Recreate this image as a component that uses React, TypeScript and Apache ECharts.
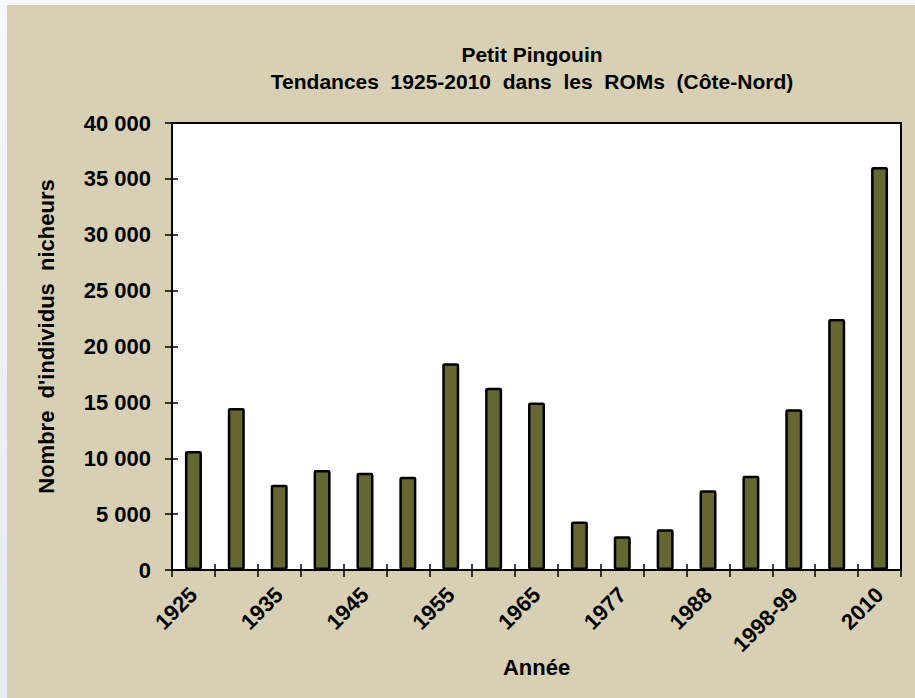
import React, { useEffect, useRef } from "react";
import * as echarts from "echarts";

const categories = [
  "1925", "1930", "1935", "1940", "1945", "1950", "1955", "1960", "1965",
  "1972", "1977", "1982", "1988", "1993", "1998-99", "2005", "2010",
];
const counts = [
  10650, 14500, 7630, 8950, 8710, 8350, 18500, 16300, 15000,
  4330, 3010, 3640, 7130, 8440, 14380, 22460, 36060,
];
const yTicks = { min: 0, max: 40000, interval: 5000 };
const titleLines = ["Petit Pingouin", "Tendances  1925-2010  dans  les  ROMs  (Côte-Nord)"];
const yName = "Nombre  d'individus  nicheurs";
const xName = "Année";

const FONT = '"Liberation Sans", Arial, sans-serif';

function fmt(v: number): string {
  return String(v).replace(/\B(?=(\d{3})+(?!\d))/g, " ");
}

export default function App() {
  const ref = useRef<HTMLDivElement>(null);
  useEffect(() => {
    if (!ref.current) return;
    const chart = echarts.init(ref.current, undefined, { renderer: "svg" });
    const labelStyle = { color: "#000", fontFamily: FONT, fontWeight: "bold" as const, fontSize: 22 };
    chart.setOption({
      animation: false,
      backgroundColor: "#d8d0b4",
      title: {
        text: titleLines.join("\n"),
        left: 520,
        top: 31,
        textAlign: "center",
        textStyle: { ...labelStyle, fontSize: 21, lineHeight: 27 },
      },
      grid: {
        left: 165,
        right: 14,
        top: 118,
        bottom: 128,
        show: true,
        backgroundColor: "#fff",
        borderColor: "#000",
        borderWidth: 2,
      },
      xAxis: [
        {
          type: "category",
          data: categories,
          position: "bottom",
          boundaryGap: true,
          name: xName,
          nameLocation: "middle",
          nameGap: 86,
          nameMoveOverlap: false,
          nameTextStyle: { ...labelStyle },
          axisLine: { show: true, lineStyle: { color: "#000", width: 2 } },
          axisTick: { show: true, interval: 0, length: 7, lineStyle: { color: "#000", width: 1.5 } },
          axisLabel: { ...labelStyle, interval: 1, rotate: 45, margin: 21 },
          splitLine: { show: false },
        },
        {
          type: "category",
          data: categories,
          position: "bottom",
          boundaryGap: true,
          axisLine: { show: false },
          axisTick: { show: true, inside: true, interval: 0, length: 6, lineStyle: { color: "#000", width: 1.5 } },
          axisLabel: { show: false },
          splitLine: { show: false },
        },
      ],
      yAxis: [
        {
          type: "value",
          min: yTicks.min,
          max: yTicks.max,
          interval: yTicks.interval,
          name: yName,
          nameLocation: "middle",
          nameGap: 115,
          nameMoveOverlap: false,
          nameTextStyle: { ...labelStyle, padding: [0, 0, 0, 20] },
          axisLine: { show: true, lineStyle: { color: "#000", width: 2 } },
          axisTick: { show: true, length: 7, lineStyle: { color: "#000", width: 1.5 } },
          axisLabel: { ...labelStyle, margin: 21, formatter: (v: number) => fmt(v) },
          splitLine: { show: false },
        },
        {
          type: "value",
          min: yTicks.min,
          max: yTicks.max,
          interval: yTicks.interval,
          position: "left",
          axisLine: { show: false },
          axisTick: { show: true, inside: true, length: 6, lineStyle: { color: "#000", width: 1.5 } },
          axisLabel: { show: false },
          splitLine: { show: false },
        },
      ],
      series: [
        {
          type: "bar",
          xAxisIndex: 0,
          yAxisIndex: 0,
          data: counts,
          barWidth: 17,
          itemStyle: { color: "#666633", borderColor: "#000", borderWidth: 2.5, borderRadius: 1 },
        },
      ],
    });
    return () => chart.dispose();
  }, []);
  return (
    <div style={{ position: "fixed", left: 0, top: 0, width: 915, height: 698, background: "#f8f9fc" }}>
      <div
        style={{
          position: "absolute",
          left: 0,
          top: 5,
          width: 7,
          height: 693,
          background: "linear-gradient(#f6f7fa, #e7eaf0)",
        }}
      />
      <div ref={ref} style={{ position: "absolute", left: 7, top: 5, width: 908, height: 693 }} />
    </div>
  );
}
